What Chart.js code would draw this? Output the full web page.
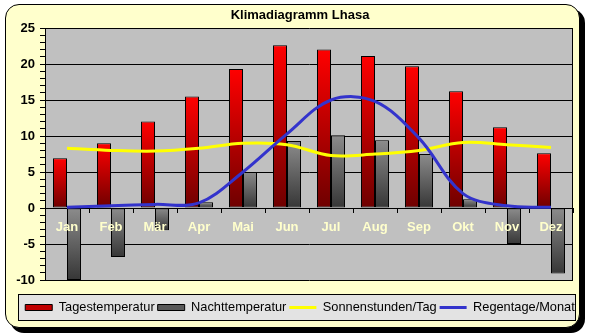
<!DOCTYPE html>
<html>
<head>
<meta charset="utf-8">
<script src="https://cdn.jsdelivr.net/npm/chart.js@4"></script>
<style>
  html, body { margin: 0; padding: 0; background: #fff; }
  #wrap { position: relative; width: 589px; height: 336px; }
  #frame {
    position: absolute; left: 5px; top: 4px; width: 573px; height: 322px;
    background: #ffffcc; border: 1px solid #000; border-radius: 14px;
    box-shadow: 5px 5px 0 #000;
  }
  #myChart { position: absolute; left: 0; top: 0; }
</style>
</head>
<body>
<div id="wrap">
  <div id="frame"></div>
  <canvas id="myChart" width="589" height="336"></canvas>
</div>
<script>
const months = ["Jan", "Feb", "Mär", "Apr", "Mai", "Jun", "Jul", "Aug", "Sep", "Okt", "Nov", "Dez"];
const tagesTemp = [6.9, 9.0, 12.0, 15.5, 19.3, 22.6, 22.0, 21.1, 19.7, 16.2, 11.2, 7.6];
const nachtTemp = [-10.0, -6.8, -3.1, 0.8, 5.0, 9.3, 10.1, 9.4, 7.5, 1.2, -5.0, -9.1];
const sonnenstunden = [8.3, 8.0, 7.9, 8.3, 9.0, 8.8, 7.3, 7.5, 8.0, 9.1, 8.8, 8.4];
const regentage = [0.1, 0.3, 0.5, 0.7, 5.0, 10.3, 15.0, 14.8, 9.7, 2.0, 0.3, 0.1];
const yMin = -10;
const yMax = 25;

Chart.defaults.font.family = "Arial, 'Liberation Sans', sans-serif";

// vertical gradient per bar, light at the top, dark at the bottom
function barGradient(top, bottom) {
  return function (context) {
    const chart = context.chart;
    const y = chart.scales.y;
    if (!y || typeof context.raw !== "number") return bottom;
    const v = context.raw;
    const y0 = y.getPixelForValue(Math.max(v, 0));
    const y1 = y.getPixelForValue(Math.min(v, 0));
    if (!isFinite(y0) || !isFinite(y1) || y0 === y1) return bottom;
    const g = chart.ctx.createLinearGradient(0, y0, 0, y1);
    g.addColorStop(0, top);
    g.addColorStop(1, bottom);
    return g;
  };
}

const backgroundPlugin = {
  id: "backgrounds",
  beforeDraw(chart) {
    const { ctx, chartArea, legend } = chart;
    ctx.save();
    ctx.fillStyle = "#c0c0c0";
    ctx.fillRect(chartArea.left, chartArea.top, chartArea.right - chartArea.left, chartArea.bottom - chartArea.top);
    if (legend) {
      const top = legend.top + 14.5;
      ctx.fillStyle = "#e3e3e3";
      ctx.fillRect(18.5, top, 557, 26);
      ctx.strokeStyle = "#000";
      ctx.lineWidth = 1;
      ctx.strokeRect(18.5, top, 557, 26);
    }
    ctx.restore();
  },
  beforeDatasetsDraw(chart) {
    const { ctx, chartArea } = chart;
    ctx.save();
    ctx.strokeStyle = "#000";
    ctx.lineWidth = 1;
    ctx.beginPath();
    ctx.moveTo(chartArea.right - 0.5, chartArea.top);
    ctx.lineTo(chartArea.right - 0.5, chartArea.bottom);
    ctx.stroke();
    ctx.restore();
  }
};

const canvas = document.getElementById("myChart");
new Chart(canvas.getContext("2d"), {
  type: "bar",
  data: {
    labels: months,
    datasets: [
      {
        label: "Tagestemperatur",
        data: tagesTemp,
        backgroundColor: barGradient("#ff0000", "#6e0000"),
        borderColor: "#000",
        borderWidth: 1,
        borderSkipped: false,
        categoryPercentage: 0.636,
        barPercentage: 1,
        pointStyle: "rect",
        order: 2
      },
      {
        label: "Nachttemperatur",
        data: nachtTemp,
        backgroundColor: barGradient("#8c8c8c", "#363636"),
        borderColor: "#000",
        borderWidth: 1,
        borderSkipped: false,
        categoryPercentage: 0.636,
        barPercentage: 1,
        pointStyle: "rect",
        order: 3
      },
      {
        type: "line",
        label: "Sonnenstunden/Tag",
        data: sonnenstunden,
        borderColor: "#ffff00",
        backgroundColor: "#ffff00",
        borderWidth: 3,
        pointRadius: 0,
        tension: 0.35,
        pointStyle: "line",
        order: 1
      },
      {
        type: "line",
        label: "Regentage/Monat",
        data: regentage,
        borderColor: "#3333cc",
        backgroundColor: "#3333cc",
        borderWidth: 3,
        pointRadius: 0,
        tension: 0.35,
        pointStyle: "line",
        order: 0
      }
    ]
  },
  options: {
    responsive: false,
    animation: false,
    devicePixelRatio: 1,
    layout: { padding: { left: 11, right: 0, top: 0, bottom: 12.1 } },
    plugins: {
      title: {
        display: true,
        text: "Klimadiagramm Lhasa",
        color: "#000",
        font: { size: 13, weight: "bold" },
        padding: { top: 8, bottom: 4.4 }
      },
      legend: {
        position: "bottom",
        title: { display: true, text: " ", font: { size: 1 }, padding: { top: 16.9, bottom: 0 } },
        labels: {
          color: "#000",
          font: { size: 12.8 },
          usePointStyle: true,
          pointStyleWidth: 27,
          boxHeight: 6,
          padding: 3,
          sort: (a, b) => a.datasetIndex - b.datasetIndex,
          generateLabels(chart) {
            const items = Chart.defaults.plugins.legend.labels.generateLabels(chart);
            items.forEach(function (it) {
              if (it.datasetIndex === 0) it.fillStyle = "#c00000";
              if (it.datasetIndex === 1) it.fillStyle = "#5a5a5a";
            });
            return items;
          }
        }
      },
      tooltip: { enabled: false }
    },
    scales: {
      x: {
        position: { y: 0 },
        offset: true,
        grid: { offset: true, drawOnChartArea: false, tickLength: 5, color: "#000", tickColor: "#000" },
        border: { display: false },
        ticks: {
          z: 1,
          color: "#ffffcc",
          font: { size: 13, weight: "bold" },
          padding: 6.5,
          maxRotation: 0,
          autoSkip: false
        }
      },
      y: {
        min: yMin,
        max: yMax,
        afterFit(scale) { scale.width = 34; },
        border: { display: true, color: "#000", width: 1 },
        grid: {
          color: (c) => (c.tick && c.tick.value % 5 === 0 ? "#000" : "rgba(0,0,0,0)"),
          tickColor: "#000",
          tickLength: 5
        },
        ticks: {
          stepSize: 1,
          autoSkip: false,
          color: "#000",
          font: { size: 13, weight: "bold" },
          padding: 5,
          callback: (v) => (v % 5 === 0 ? v : "")
        }
      },
      // empty right-hand axis, only keeps space on the right of the plot
      yRight: {
        position: "right",
        display: true,
        afterFit(scale) { scale.width = 16; },
        grid: { display: false },
        border: { display: false },
        ticks: { display: false }
      }
    }
  },
  plugins: [backgroundPlugin]
});
</script>
</body>
</html>
